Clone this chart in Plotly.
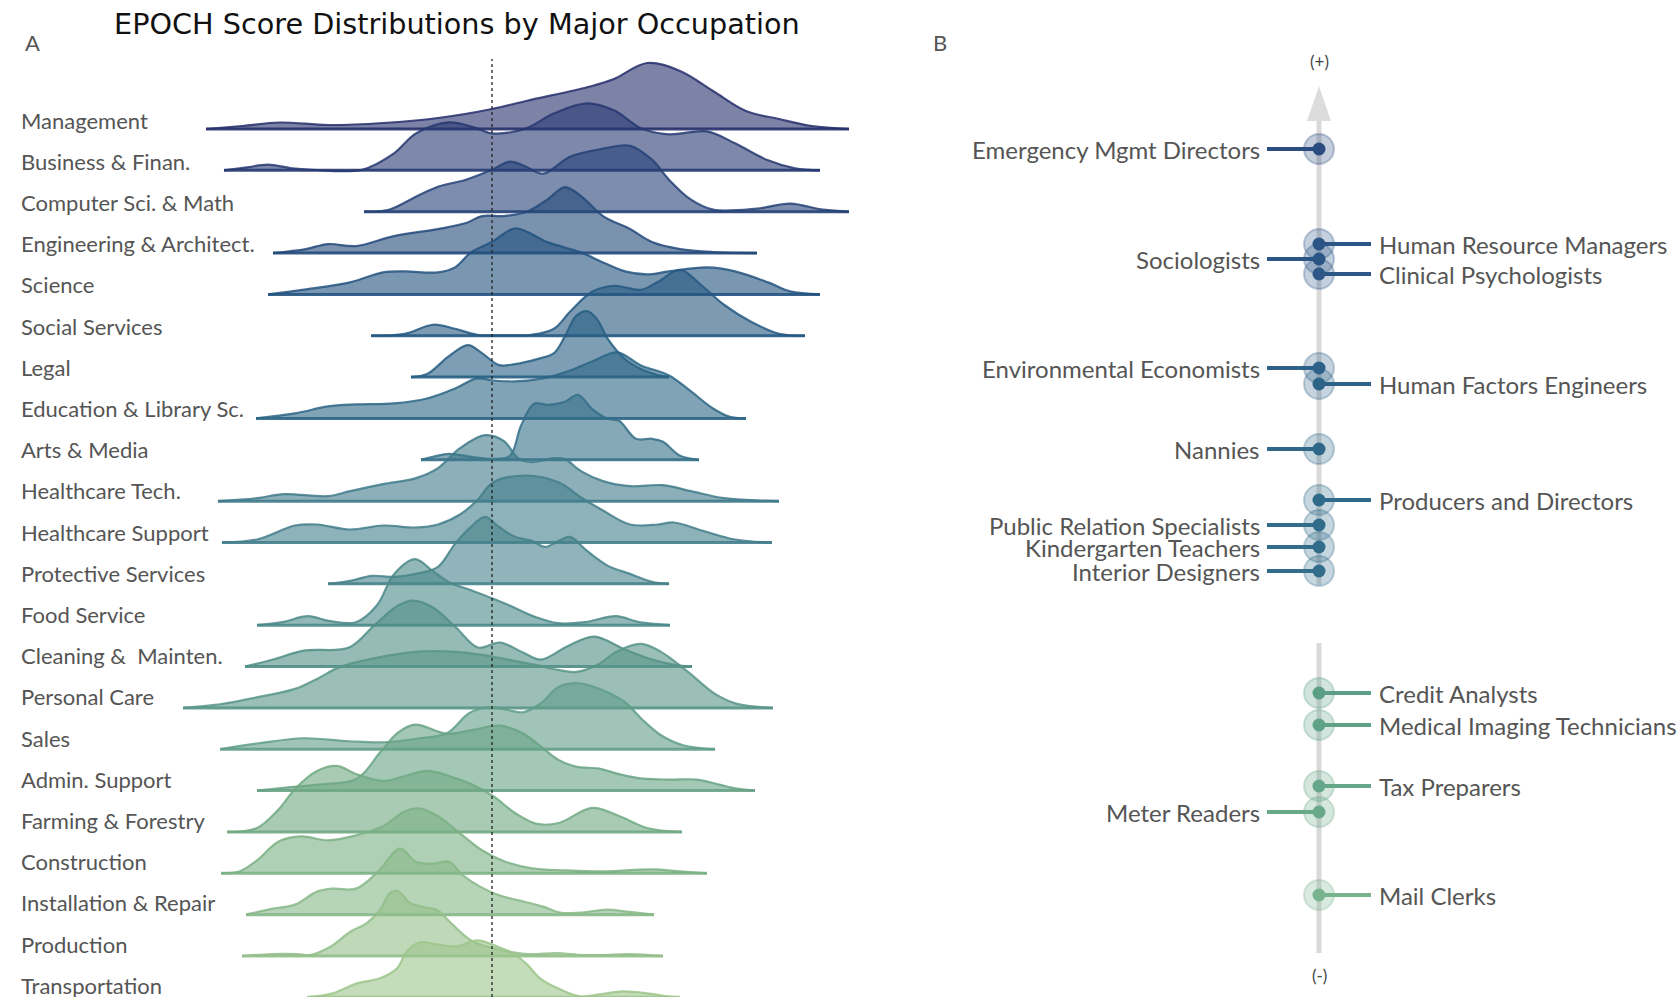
import plotly.graph_objects as go
from plotly.colors import sample_colorscale, hex_to_rgb

# ---------------- Panel A data: ridgeline densities (score, density) ----------------
TITLE = "EPOCH Score Distributions by Major Occupation"

occupations = [
    "Management", "Business & Finan.", "Computer Sci. & Math", "Engineering & Architect.",
    "Science", "Social Services", "Legal", "Education & Library Sc.", "Arts & Media",
    "Healthcare Tech.", "Healthcare Support", "Protective Services", "Food Service",
    "Cleaning &  Mainten.", "Personal Care", "Sales", "Admin. Support",
    "Farming & Forestry", "Construction", "Installation & Repair", "Production",
    "Transportation",
]

management = [(-2.86, 0), (-2.5, 0.03), (-2.12, 0.065), (-1.64, 0.04), (-1.09, 0.06), (-0.54, 0.11),
              (0.0, 0.2), (0.34, 0.28), (1.0, 0.43), (1.22, 0.5), (1.55, 0.66), (1.88, 0.58),
              (2.21, 0.38), (2.54, 0.18), (2.87, 0.1), (3.2, 0.03), (3.57, 0)]
business = [(-2.68, 0), (-2.45, 0.03), (-2.24, 0.057), (-2.0, 0.02), (-1.8, 0.006), (-1.3, 0.006),
            (-0.98, 0.17), (-0.76, 0.37), (-0.43, 0.48), (-0.15, 0.42), (0.0, 0.37), (0.34, 0.42),
            (0.62, 0.57), (0.95, 0.67), (1.22, 0.6), (1.49, 0.42), (1.77, 0.36), (2.15, 0.39),
            (2.43, 0.27), (2.76, 0.1), (3.03, 0.02), (3.28, 0)]
computer = [(-1.28, 0), (-1.03, 0.02), (-0.76, 0.15), (-0.54, 0.25), (-0.26, 0.32), (0.0, 0.42),
            (0.18, 0.5), (0.34, 0.45), (0.51, 0.38), (0.78, 0.55), (1.11, 0.63), (1.38, 0.66),
            (1.6, 0.52), (1.77, 0.32), (1.99, 0.12), (2.21, 0.02), (2.65, 0.03), (2.98, 0.08),
            (3.31, 0.02), (3.57, 0)]
engineering = [(-2.19, 0), (-1.86, 0.04), (-1.64, 0.09), (-1.36, 0.07), (-0.98, 0.17), (-0.54, 0.24),
               (-0.26, 0.3), (-0.1, 0.37), (0.12, 0.37), (0.34, 0.41), (0.56, 0.54), (0.73, 0.66),
               (0.89, 0.57), (1.11, 0.37), (1.38, 0.24), (1.6, 0.11), (1.88, 0.04), (2.21, 0.01),
               (2.65, 0)]
science = [(-2.24, 0), (-1.86, 0.05), (-1.42, 0.12), (-1.09, 0.22), (-0.87, 0.23), (-0.54, 0.22),
           (-0.37, 0.27), (-0.21, 0.42), (0.01, 0.53), (0.23, 0.66), (0.56, 0.52), (0.89, 0.42),
           (1.11, 0.32), (1.33, 0.23), (1.55, 0.2), (1.77, 0.23), (2.15, 0.27), (2.43, 0.23),
           (2.76, 0.12), (2.98, 0.03), (3.28, 0)]
social = [(-1.21, 0), (-0.87, 0.02), (-0.59, 0.11), (-0.37, 0.07), (-0.15, 0.01), (0.1, 0.005),
          (0.4, 0.01), (0.62, 0.07), (0.78, 0.24), (1.0, 0.44), (1.22, 0.5), (1.49, 0.46),
          (1.66, 0.54), (1.88, 0.66), (2.1, 0.5), (2.32, 0.31), (2.59, 0.14), (2.87, 0.02), (3.13, 0)]
legal = [(-0.81, 0), (-0.65, 0.03), (-0.43, 0.21), (-0.24, 0.32), (-0.1, 0.24), (0.07, 0.12),
         (0.23, 0.13), (0.45, 0.18), (0.62, 0.24), (0.73, 0.41), (0.84, 0.61), (0.95, 0.66),
         (1.05, 0.58), (1.16, 0.38), (1.33, 0.18), (1.49, 0.08), (1.66, 0.02), (1.77, 0)]
education = [(-2.36, 0), (-1.97, 0.05), (-1.64, 0.12), (-1.36, 0.14), (-0.98, 0.15), (-0.65, 0.2),
             (-0.37, 0.3), (-0.15, 0.4), (0.01, 0.38), (0.23, 0.37), (0.51, 0.4), (0.78, 0.48),
             (1.0, 0.57), (1.25, 0.66), (1.49, 0.53), (1.77, 0.43), (1.99, 0.27), (2.21, 0.1),
             (2.37, 0.02), (2.54, 0)]
arts = [(-0.71, 0), (-0.59, 0.03), (-0.43, 0.06), (-0.21, 0.03), (0.01, 0.01), (0.18, 0.04),
        (0.29, 0.34), (0.42, 0.56), (0.56, 0.55), (0.73, 0.58), (0.86, 0.65), (1.0, 0.51),
        (1.16, 0.41), (1.27, 0.39), (1.44, 0.21), (1.6, 0.21), (1.71, 0.18), (1.88, 0.04), (2.07, 0)]
hc_tech = [(-2.74, 0), (-2.35, 0.03), (-2.08, 0.07), (-1.64, 0.05), (-1.42, 0.1), (-1.09, 0.17),
           (-0.76, 0.23), (-0.54, 0.33), (-0.32, 0.53), (-0.07, 0.66), (0.12, 0.6), (0.26, 0.43),
           (0.4, 0.39), (0.62, 0.43), (0.73, 0.42), (0.89, 0.3), (1.11, 0.2), (1.38, 0.15),
           (1.71, 0.16), (1.99, 0.1), (2.32, 0.03), (2.87, 0)]
hc_support = [(-2.7, 0), (-2.35, 0.03), (-1.97, 0.17), (-1.75, 0.18), (-1.42, 0.13), (-1.09, 0.17),
              (-0.76, 0.15), (-0.54, 0.18), (-0.32, 0.28), (-0.15, 0.42), (0.01, 0.6), (0.34, 0.67),
              (0.67, 0.6), (0.89, 0.45), (1.11, 0.32), (1.38, 0.18), (1.66, 0.18), (1.82, 0.2),
              (2.1, 0.12), (2.43, 0.03), (2.8, 0)]
protective = [(-1.64, 0), (-1.42, 0.03), (-1.2, 0.08), (-0.98, 0.07), (-0.76, 0.1), (-0.54, 0.17),
              (-0.37, 0.4), (-0.21, 0.57), (-0.07, 0.67), (0.07, 0.57), (0.23, 0.47), (0.4, 0.43),
              (0.53, 0.37), (0.67, 0.43), (0.78, 0.47), (0.95, 0.33), (1.16, 0.18), (1.38, 0.1),
              (1.6, 0.02), (1.77, 0)]
food = [(-2.35, 0), (-2.1, 0.03), (-1.84, 0.09), (-1.62, 0.04), (-1.36, 0.03), (-1.15, 0.2),
        (-0.98, 0.51), (-0.77, 0.66), (-0.59, 0.54), (-0.43, 0.43), (-0.21, 0.35), (0.0, 0.27),
        (0.17, 0.2), (0.44, 0.08), (0.66, 0.02), (0.93, 0.03), (1.24, 0.09), (1.47, 0.03), (1.78, 0)]
cleaning = [(-2.47, 0), (-2.19, 0.07), (-1.88, 0.16), (-1.43, 0.19), (-1.17, 0.42), (-0.94, 0.61),
            (-0.79, 0.66), (-0.59, 0.59), (-0.36, 0.39), (-0.14, 0.19), (0.08, 0.24), (0.31, 0.14),
            (0.49, 0.07), (0.75, 0.2), (1.02, 0.3), (1.33, 0.17), (1.6, 0.07), (1.87, 0.01), (2.0, 0)]
personal_care = [(-3.09, 0), (-2.77, 0.03), (-2.33, 0.11), (-1.97, 0.19), (-1.75, 0.29), (-1.52, 0.41),
                 (-1.21, 0.49), (-0.77, 0.56), (-0.36, 0.56), (-0.1, 0.53), (0.17, 0.48), (0.44, 0.43),
                 (0.66, 0.38), (0.84, 0.36), (1.07, 0.44), (1.24, 0.56), (1.49, 0.64), (1.69, 0.56),
                 (1.96, 0.36), (2.23, 0.14), (2.45, 0.04), (2.81, 0)]
sales = [(-2.72, 0), (-2.33, 0.06), (-1.88, 0.11), (-1.43, 0.08), (-1.08, 0.07), (-0.72, 0.11),
         (-0.45, 0.16), (-0.23, 0.36), (-0.05, 0.42), (0.17, 0.39), (0.31, 0.37), (0.49, 0.46),
         (0.66, 0.62), (0.87, 0.66), (1.11, 0.59), (1.33, 0.47), (1.51, 0.29), (1.69, 0.14),
         (1.91, 0.04), (2.23, 0)]
admin_support = [(-2.35, 0), (-2.06, 0.03), (-1.75, 0.06), (-1.35, 0.12), (-1.12, 0.38), (-0.94, 0.58),
                 (-0.77, 0.66), (-0.45, 0.57), (-0.18, 0.61), (0.08, 0.65), (0.31, 0.57), (0.49, 0.44),
                 (0.66, 0.31), (0.84, 0.24), (1.07, 0.22), (1.29, 0.16), (1.51, 0.12), (1.78, 0.11),
                 (2.05, 0.11), (2.27, 0.06), (2.45, 0.02), (2.63, 0)]
farming = [(-2.65, 0), (-2.35, 0.04), (-2.13, 0.23), (-1.97, 0.43), (-1.75, 0.61), (-1.55, 0.66),
           (-1.36, 0.58), (-1.09, 0.51), (-0.87, 0.56), (-0.65, 0.61), (-0.43, 0.56), (-0.21, 0.48),
           (0.01, 0.36), (0.23, 0.19), (0.45, 0.08), (0.67, 0.09), (1.0, 0.24), (1.27, 0.16),
           (1.55, 0.04), (1.9, 0)]
construction = [(-2.71, 0), (-2.52, 0.02), (-2.35, 0.13), (-2.13, 0.32), (-1.91, 0.37), (-1.64, 0.33),
                (-1.36, 0.38), (-1.09, 0.47), (-0.87, 0.62), (-0.73, 0.65), (-0.54, 0.57), (-0.32, 0.4),
                (-0.1, 0.23), (0.12, 0.12), (0.4, 0.05), (0.73, 0.03), (1.11, 0.02), (1.6, 0.04),
                (1.88, 0.02), (2.15, 0)]
installation = [(-2.46, 0), (-2.19, 0.06), (-1.97, 0.1), (-1.75, 0.23), (-1.59, 0.26), (-1.36, 0.26),
                (-1.14, 0.43), (-0.92, 0.66), (-0.76, 0.53), (-0.59, 0.51), (-0.43, 0.53), (-0.3, 0.4),
                (-0.12, 0.28), (0.08, 0.19), (0.28, 0.14), (0.51, 0.08), (0.68, 0.02), (0.88, 0.02),
                (1.15, 0.05), (1.35, 0.03), (1.62, 0)]
production = [(-2.5, 0), (-2.2, 0.02), (-1.95, 0.02), (-1.82, 0.01), (-1.62, 0.09), (-1.42, 0.24),
              (-1.25, 0.33), (-1.12, 0.46), (-1.02, 0.63), (-0.94, 0.65), (-0.82, 0.53), (-0.69, 0.49),
              (-0.55, 0.46), (-0.4, 0.32), (-0.2, 0.15), (0.05, 0.07), (0.35, 0.02), (0.65, 0.03),
              (0.9, 0.01), (1.1, 0.01), (1.38, 0.02), (1.71, 0)]
transportation = [(-1.85, 0), (-1.59, 0.04), (-1.35, 0.14), (-1.12, 0.19), (-0.95, 0.29), (-0.85, 0.46),
                  (-0.72, 0.55), (-0.55, 0.53), (-0.35, 0.51), (-0.15, 0.57), (0.05, 0.51), (0.21, 0.44),
                  (0.35, 0.33), (0.48, 0.19), (0.68, 0.08), (0.88, 0.01), (1.08, 0.03), (1.31, 0.06),
                  (1.55, 0.04), (1.75, 0.01), (1.88, 0)]

densities = [management, business, computer, engineering, science, social, legal, education, arts,
             hc_tech, hc_support, protective, food, cleaning, personal_care, sales, admin_support,
             farming, construction, installation, production, transportation]

# ---------------- Panel B data ----------------
b_names = ["Emergency Mgmt Directors", "Human Resource Managers", "Sociologists",
           "Clinical Psychologists", "Environmental Economists", "Human Factors Engineers",
           "Nannies", "Producers and Directors", "Public Relation Specialists",
           "Kindergarten Teachers", "Interior Designers", "Credit Analysts",
           "Medical Imaging Technicians", "Tax Preparers", "Meter Readers", "Mail Clerks"]
b_scores = [4.58, 3.63, 3.48, 3.33, 2.39, 2.23, 1.58, 1.07, 0.82, 0.60, 0.36,
            -0.86, -1.18, -1.79, -2.05, -2.88]
b_side = ["left", "right", "left", "right", "left", "right", "left", "right", "left", "left",
          "left", "right", "right", "right", "left", "right"]

# ---------------- Styles ----------------
W, H = 1679, 997
ROW_TOP = 129.0        # px of first baseline
ROW_GAP = 41.35        # px between baselines
LABEL_TOP = 120.0      # px of first row label
LABEL_GAP = 41.2       # px between row labels
RIDGE_SCALE = 100.0    # px per density unit
PANEL_SPLIT = 860      # px where panel B begins
A_ZERO_PX = 492        # px of score 0 in panel A
B_AXIS_PX = 1319       # px of panel B axis
B_ZERO_PX = 607        # px of score 0 in panel B

CREST = [[0.0, '#272f6c'], [0.19, '#22527f'], [0.33, '#2a6485'], [0.43, '#3f7a8b'],
         [0.52, '#46828b'], [0.62, '#508e86'], [0.71, '#5f9c88'], [0.81, '#70a982'],
         [1.0, '#9dc58c']]
b_colors = ['#2a4c7f', '#2b5585', '#2b5585', '#2c5786', '#2e6188', '#2e6388', '#2f6789',
            '#306a8a', '#316c8b', '#316d8b', '#326e8b', '#5b9e86', '#5fa287', '#66a689',
            '#69a98a', '#78b38f']
TEXT = '#555555'
FONT = 'Lato'


def rgba(col, a):
    if col.startswith('rgb'):
        r, g, b = [int(float(v)) for v in col[col.index('(') + 1:-1].split(',')[:3]]
    else:
        r, g, b = hex_to_rgb(col)
    return f'rgba({r},{g},{b},{a})'


fig = go.Figure()

n = len(occupations)
row_cols = sample_colorscale(CREST, [i / (n - 1) for i in range(n)])
annotations = []
for i, (name, pts) in enumerate(zip(occupations, densities)):
    base = -i * ROW_GAP
    xs = [p[0] for p in pts]
    ys = [base + p[1] * RIDGE_SCALE for p in pts]
    col = row_cols[i]
    fig.add_trace(go.Scatter(x=[xs[0], xs[-1]], y=[base, base], mode='lines',
                             line=dict(width=0, color=rgba(col, 0)), hoverinfo='skip',
                             showlegend=False, xaxis='x', yaxis='y'))
    fig.add_trace(go.Scatter(x=xs, y=ys, mode='lines', fill='tonexty',
                             fillcolor=rgba(col, 0.6),
                             line=dict(width=2.2, color=rgba(col, 0.85), shape='spline', smoothing=1.0),
                             name=name, showlegend=False, xaxis='x', yaxis='y'))
    fig.add_trace(go.Scatter(x=[xs[0], xs[-1]], y=[base, base], mode='lines',
                             line=dict(width=3, color=rgba(col, 0.9)), hoverinfo='skip',
                             showlegend=False, xaxis='x', yaxis='y'))
    annotations.append(dict(text=name, xref='paper', yref='y', x=19 / W,
                            y=ROW_TOP - (LABEL_TOP + i * LABEL_GAP),
                            xanchor='left', yanchor='middle', showarrow=False,
                            font=dict(family=FONT, size=22, color=TEXT)))

# Panel B
for s, c in zip(b_scores, b_colors):
    fig.add_trace(go.Scatter(x=[0], y=[s], mode='markers', xaxis='x2', yaxis='y2',
                             marker=dict(size=30, color=rgba(c, 0.28),
                                         line=dict(width=2, color=rgba(c, 0.3))),
                             hoverinfo='skip', showlegend=False))
for name, s, side, c in zip(b_names, b_scores, b_side, b_colors):
    sign = -1 if side == 'left' else 1
    fig.add_trace(go.Scatter(x=[0, sign * 52], y=[s, s], mode='lines', xaxis='x2', yaxis='y2',
                             line=dict(width=4, color=c), hoverinfo='skip', showlegend=False))
    annotations.append(dict(text=name, xref='x2', yref='y2',
                            x=-57 if side == 'left' else 58, y=s,
                            xanchor='right' if side == 'left' else 'left', yanchor='middle',
                            showarrow=False, font=dict(family=FONT, size=24, color=TEXT)))
fig.add_trace(go.Scatter(x=[0] * len(b_scores), y=b_scores, mode='markers', xaxis='x2', yaxis='y2',
                         marker=dict(size=13, color=b_colors), text=b_names,
                         hoverinfo='text', showlegend=False))

shapes = [
    dict(type='line', xref='x', yref='paper', x0=0, x1=0, y0=0, y1=1 - 59 / H,
         line=dict(color='#222222', width=1.3, dash='dot'), layer='above'),
    dict(type='line', xref='x2', yref='y2', x0=0, x1=0, y0=4.86, y1=0.22,
         line=dict(color='#d9d9d9', width=5), layer='below'),
    dict(type='line', xref='x2', yref='y2', x0=0, x1=0, y0=-0.36, y1=-3.46,
         line=dict(color='#d9d9d9', width=5), layer='below'),
    dict(type='path', xref='x2', yref='y2', path='M -12,4.86 L 12,4.86 L 0,5.21 Z',
         fillcolor='#dcdcdc', line=dict(width=0), layer='below'),
]

annotations += [
    dict(text=TITLE, xref='paper', yref='paper', x=457 / W, y=1 - 24 / H, xanchor='center',
         yanchor='middle', showarrow=False, font=dict(family='DejaVu Sans', size=28.7, color='#111111')),
    dict(text='A', xref='paper', yref='paper', x=32 / W, y=1 - 42 / H, xanchor='center',
         yanchor='middle', showarrow=False, font=dict(family=FONT, size=22, color=TEXT)),
    dict(text='B', xref='paper', yref='paper', x=940 / W, y=1 - 42 / H, xanchor='center',
         yanchor='middle', showarrow=False, font=dict(family=FONT, size=22, color=TEXT)),
    dict(text='(+)', xref='x2', yref='paper', x=0, y=1 - 61 / H, xanchor='center',
         yanchor='middle', showarrow=False, font=dict(family=FONT, size=17, color='#444444')),
    dict(text='(-)', xref='x2', yref='paper', x=0, y=1 - 975 / H, xanchor='center',
         yanchor='middle', showarrow=False, font=dict(family=FONT, size=17, color='#444444')),
]

fig.update_layout(
    width=W, height=H, margin=dict(l=0, r=0, t=0, b=0),
    paper_bgcolor='white', plot_bgcolor='white', showlegend=False,
    xaxis=dict(domain=[0, PANEL_SPLIT / W], range=[-A_ZERO_PX / 100, (PANEL_SPLIT - A_ZERO_PX) / 100],
               visible=False, fixedrange=True),
    yaxis=dict(domain=[0, 1], range=[-(H - ROW_TOP), ROW_TOP], visible=False, fixedrange=True),
    xaxis2=dict(domain=[PANEL_SPLIT / W, 1], anchor='y2',
                range=[PANEL_SPLIT - B_AXIS_PX, W - B_AXIS_PX], visible=False, fixedrange=True),
    yaxis2=dict(domain=[0, 1], anchor='x2', range=[(B_ZERO_PX - H) / 100, B_ZERO_PX / 100],
                visible=False, fixedrange=True),
    shapes=shapes, annotations=annotations,
)

fig.write_html("out.html", config={'displayModeBar': False},
               post_script="document.body.style.margin='0';")
